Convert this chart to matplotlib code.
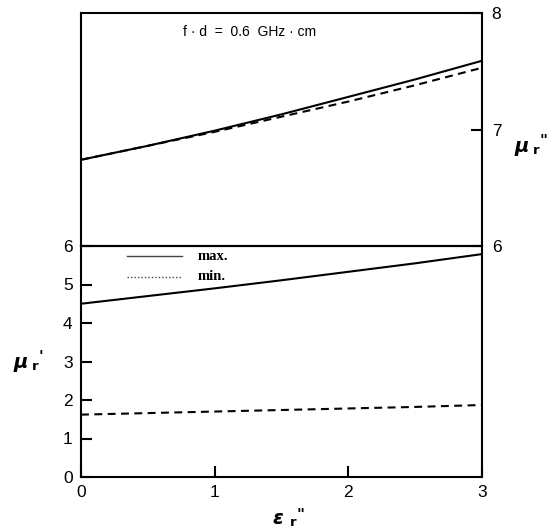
import matplotlib
matplotlib.use("Agg")
import matplotlib.pyplot as plt

# Imaginary permittivity (x axis)
eps_r2 = [0.0, 0.5, 1.0, 1.5, 2.0, 2.5, 3.0]

# Upper panel: mu_r'' (right axis)
mu2_max = [6.74, 6.86, 6.99, 7.13, 7.28, 7.43, 7.59]
mu2_min = [6.74, 6.86, 6.98, 7.11, 7.24, 7.38, 7.53]

# Lower panel: mu_r' (left axis)
mu1_max = [4.50, 4.70, 4.90, 5.11, 5.33, 5.55, 5.79]
mu1_min = [1.62, 1.66, 1.70, 1.74, 1.78, 1.82, 1.87]

x_ticks = [0, 1, 2, 3]
mu1_ticks = [0, 1, 2, 3, 4, 5, 6]
mu2_ticks = [6, 7, 8]

W, H = 559, 528
fig = plt.figure(figsize=(W / 100, H / 100), dpi=100)
fig.patch.set_facecolor("white")

x0, x1 = 81, 482
y_top, y_mid, y_bot = 13, 246, 477
ax_bot = fig.add_axes([x0 / W, (H - y_bot) / H, (x1 - x0) / W, (y_bot - y_mid) / H])
ax_top = fig.add_axes([x0 / W, (H - y_mid) / H, (x1 - x0) / W, (y_mid - y_top) / H],
                      sharex=ax_bot)

tick_font = dict(family="Liberation Sans", size=12.5)
dash = (0, (3.8, 2.6))
lw = 1.5

# lower panel
ax_bot.plot(eps_r2, mu1_max, color="black", lw=lw)
ax_bot.plot(eps_r2, mu1_min, color="black", lw=lw, linestyle=dash)
ax_bot.set_xlim(0, 3)
ax_bot.set_ylim(0, 6)
ax_bot.set_xticks(x_ticks)
ax_bot.set_yticks(mu1_ticks)
ax_bot.tick_params(axis="both", direction="in", length=8, width=1.5,
                   top=False, right=False)
ax_bot.tick_params(axis="y", pad=6)
ax_bot.tick_params(axis="x", pad=6)
for lab in ax_bot.get_xticklabels() + ax_bot.get_yticklabels():
    lab.set_fontfamily(tick_font["family"])
    lab.set_fontsize(tick_font["size"])

# upper panel
ax_top.plot(eps_r2, mu2_max, color="black", lw=lw)
ax_top.plot(eps_r2, mu2_min, color="black", lw=lw, linestyle=dash)
ax_top.set_ylim(6, 8)
ax_top.set_yticks(mu2_ticks)
ax_top.yaxis.tick_right()
ax_top.tick_params(axis="y", direction="in", length=8, width=1.5, pad=7,
                   left=False, right=True)
ax_top.tick_params(axis="x", bottom=False, labelbottom=False)
for lab in ax_top.get_yticklabels():
    lab.set_fontfamily(tick_font["family"])
    lab.set_fontsize(tick_font["size"])

for ax in (ax_bot, ax_top):
    for sp in ax.spines.values():
        sp.set_linewidth(1.5)
    ax.set_facecolor("none")

# legend drawn by hand in figure pixels
def fx(px):
    return px / W

def fy(py):
    return 1 - py / H

fig.add_artist(plt.Line2D([fx(127), fx(182)], [fy(256), fy(256)],
                          color="#444444", lw=1.0, transform=fig.transFigure))
fig.add_artist(plt.Line2D([fx(127), fx(182)], [fy(277), fy(277)],
                          color="#444444", lw=1.0, linestyle=(0, (1, 1.5)),
                          transform=fig.transFigure))
fig.text(fx(198), fy(256), "max.", family="Liberation Serif", weight="bold",
         size=10.5, va="center", ha="left")
fig.text(fx(198), fy(277), "min.", family="Liberation Serif", weight="bold",
         size=10.5, va="center", ha="left")

# annotation
fig.text(fx(250), fy(32), "f · d  =  0.6  GHz · cm", family="Liberation Sans",
         size=10, va="center", ha="center")

# axis labels
def sym_label(xm, ym, base, sup):
    fig.text(fx(xm), fy(ym), base, family="DejaVu Sans", style="italic",
             weight="bold", size=14, va="center", ha="left")
    fig.text(fx(xm + 18), fy(ym + 4), "r", family="DejaVu Sans",
             weight="bold", size=9.5, va="center", ha="left")
    fig.text(fx(xm + 25), fy(ym - 4), sup, family="DejaVu Sans",
             style="italic", weight="bold", size=11, va="center", ha="left")

sym_label(14, 362, "μ", "'")
sym_label(515, 146, "μ", '"')
sym_label(272, 519, "ε", '"')

fig.savefig("out.png", dpi=100, facecolor="white")
